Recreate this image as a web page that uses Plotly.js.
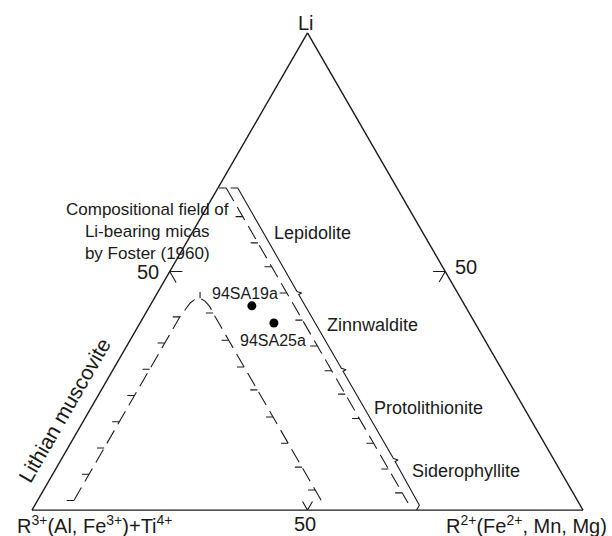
<!DOCTYPE html>
<html><head><meta charset="utf-8">
<script src="https://cdn.plot.ly/plotly-3.0.1.min.js"></script>
<style>html,body{margin:0;padding:0;background:#fff}#chart{width:612px;height:536px}</style>
</head><body><div id="chart"></div>
<script>
// ---------- data (ternary %, sum = 100) ----------
const apexLabels = ['Li', 'R<sup>3+</sup>(Al, Fe<sup>3+</sup>)+Ti<sup>4+</sup>', 'R<sup>2+</sup>(Fe<sup>2+</sup>, Mn, Mg)'];
const sampleNames = ['94SA19a', '94SA25a'];
const sampleLi = [42.8, 39.2];
const sampleR3 = [38.7, 36.5];
const sampleR2 = [18.5, 24.3];

// Foster (1960) field: inner dashed boundary, left branch (hachure positions)
const innerLeftLi = [2, 7.5, 13, 18.5, 24, 29.5, 35, 40.5];
const innerLeftR3 = [91.4, 85.9, 80.4, 74.9, 69.4, 63.9, 58.4, 52.9];
const innerLeftR2 = [6.6, 6.6, 6.6, 6.6, 6.6, 6.6, 6.6, 6.6];
// rounded top of the inner boundary
const peakLi = [43.4, 44.1, 44.4, 43.8, 42.6];
const peakR3 = [49.6, 48.46, 47.3, 46.7, 46.4];
const peakR2 = [7.0, 7.44, 8.3, 9.5, 11.0];
// inner dashed boundary, right branch (hachure positions)
const innerRightLi = [41.3, 35.6, 30, 25.2, 19.5, 14, 9, 4.2];
const innerRightR3 = [46.5, 46.5, 46.5, 46.5, 46.5, 46.5, 46.5, 46.5];
const innerRightR2 = [12.2, 17.9, 23.5, 28.3, 34.0, 39.5, 44.5, 49.3];
const innerEnd = [1.8, 46.5, 51.7];

// Foster (1960) field: outer dashed boundary (hachure positions)
const outerLi = [67.5, 61.5, 56, 51, 45.5, 39.8, 34.4, 29.2, 24.3, 19.2, 14, 8.6, 3.6];
const outerR3 = [31, 31, 31, 31, 31, 31, 31, 31, 31, 31, 31, 31, 31];
const outerR2 = [1.5, 7.5, 13, 18, 23.5, 29.2, 34.6, 39.8, 44.7, 49.8, 55, 60.4, 65.4];
const outerEnd = [1.5, 31, 67.5];

// brace for Lepidolite / Zinnwaldite / Protolithionite / Siderophyllite
const braceLi = [67.5, 67.5, 45.8, 45.5, 45.2, 29.7, 29.4, 29.1, 10.8, 10.5, 10.2, 1.0, 0];
const braceR3 = [30.2, 28.9, 29.0, 28.3, 29.0, 29.0, 28.3, 29.0, 29.0, 28.3, 29.0, 29.2, 30.2];
const braceR2 = [2.3, 3.6, 25.2, 26.2, 25.8, 41.3, 42.3, 41.9, 60.2, 61.2, 60.8, 69.8, 69.8];

// brace for Lithian muscovite (outside the left edge)
const muscLi = [35.4, 35.2, 1.7, 0];
const muscR3 = [65.0, 66.2, 99.7, 100.3];
const muscR2 = [-0.4, -1.4, -1.4, -0.3];

// 50 % tick marks on each edge
const tickLi = [50, 50, 47.7, null, 50, 50, 47.8, null, 1.8, 0, 1.8];
const tickR3 = [47.7, 50, 50, null, 2.2, 0, 2.2, null, 50, 50, 48.2];
const tickR2 = [2.3, 0, 2.3, null, 47.8, 50, 50, null, 48.2, 50, 50];

const fieldNames = ['Lepidolite', 'Zinnwaldite', 'Protolithionite', 'Siderophyllite'];
const fosterLabel = 'Compositional field of<br>Li-bearing micas<br>by Foster (1960)';
const musLabel = 'Lithian muscovite';
const tickLabel = '50';

// ---------- helpers ----------
const ink = '#1a1a1a';
const FONT = 'Liberation Sans, Arial, Helvetica, sans-serif';
const HL = 1.3; // hachure length (ternary units)

// short one-sided hachure strokes at each given vertex (toward higher R3+, i.e. to the left)
function hachures(A, B, C) {
  const a = [], b = [], c = [];
  for (let i = 0; i < A.length; i++) {
    a.push(A[i], A[i], null);
    b.push(B[i], B[i] + HL, null);
    c.push(C[i], C[i] - HL, null);
  }
  return {a, b, c};
}
const hInL = hachures(innerLeftLi, innerLeftR3, innerLeftR2);
const hInR = hachures(innerRightLi, innerRightR3, innerRightR2);
const hOut = hachures(outerLi, outerR3, outerR2);
// the tick at the top of the rounded peak points upward
const hPeak = {a: [peakLi[2], peakLi[2] + HL], b: [peakR3[2], peakR3[2] - HL / 2], c: [peakR2[2], peakR2[2] - HL / 2]};

const dashLine = {color: ink, width: 1.1, dash: '15px,7px'};
const solid = {color: ink, width: 1.1};
const base = {type: 'scatterternary', cliponaxis: false, hoverinfo: 'skip', connectgaps: false};

const traces = [
  Object.assign({}, base, {mode: 'lines',
    a: innerLeftLi.concat(peakLi, innerRightLi, [innerEnd[0]]),
    b: innerLeftR3.concat(peakR3, innerRightR3, [innerEnd[1]]),
    c: innerLeftR2.concat(peakR2, innerRightR2, [innerEnd[2]]), line: dashLine}),
  Object.assign({}, base, {mode: 'lines',
    a: outerLi.concat([outerEnd[0]]), b: outerR3.concat([outerEnd[1]]), c: outerR2.concat([outerEnd[2]]), line: dashLine}),
  Object.assign({}, base, {mode: 'lines',
    a: hInL.a.concat(hInR.a, hOut.a, hPeak.a), b: hInL.b.concat(hInR.b, hOut.b, hPeak.b),
    c: hInL.c.concat(hInR.c, hOut.c, hPeak.c), line: solid}),
  Object.assign({}, base, {mode: 'lines', a: braceLi, b: braceR3, c: braceR2, line: solid}),
  Object.assign({}, base, {mode: 'lines', a: muscLi, b: muscR3, c: muscR2, line: solid}),
  Object.assign({}, base, {mode: 'lines', a: tickLi, b: tickR3, c: tickR2, line: solid}),
  {type: 'scatterternary', mode: 'markers', a: sampleLi, b: sampleR3, c: sampleR2, text: sampleNames,
   marker: {color: '#000', size: 9}, cliponaxis: false}
];

// ---------- layout ----------
const W = 612, H = 536;
const px = v => v / W, py = v => 1 - v / H;
const ann = (text, x, y, size, xanchor, extra) => Object.assign({
  text, x: px(x), y: py(y), xref: 'paper', yref: 'paper', showarrow: false,
  xanchor: xanchor || 'center', yanchor: 'middle', font: {family: FONT, size, color: ink}
}, extra || {});

const axisStyle = {showgrid: false, showticklabels: false, ticks: '', showline: true,
  linecolor: ink, linewidth: 1.4, title: {text: ''}};

const layout = {
  width: W, height: H, margin: {l: 0, r: 0, t: 0, b: 0, pad: 0},
  paper_bgcolor: '#fff', showlegend: false, hovermode: false,
  ternary: {
    sum: 100,
    domain: {x: [0.05229, 0.95261], y: [0.04571, 0.94123]},
    bgcolor: 'rgba(0,0,0,0)',
    aaxis: axisStyle, baxis: axisStyle, caxis: axisStyle
  },
  annotations: [
    ann(apexLabels[0], 306, 23, 20),
    ann(apexLabels[1], 15, 524, 20, 'left'),
    ann(apexLabels[2], 609, 524, 20, 'right'),
    ann(tickLabel, 161, 272, 20, 'right'),
    ann(tickLabel, 453, 267, 20, 'left'),
    ann(tickLabel, 305, 524, 20),
    ann(fosterLabel, 147, 232, 17, 'center', {align: 'center'}),
    ann(fieldNames[0], 272, 233, 18, 'left'),
    ann(fieldNames[1], 325, 325, 18, 'left'),
    ann(fieldNames[2], 372, 408, 18, 'left'),
    ann(fieldNames[3], 410, 471, 18, 'left'),
    ann(sampleNames[0], 245, 293, 16),
    ann(sampleNames[1], 273, 340, 16),
    ann(musLabel, 64, 410, 21, 'center', {textangle: -60})
  ]
};

Plotly.newPlot('chart', traces, layout, {staticPlot: true, displayModeBar: false});
</script>
</body></html>
